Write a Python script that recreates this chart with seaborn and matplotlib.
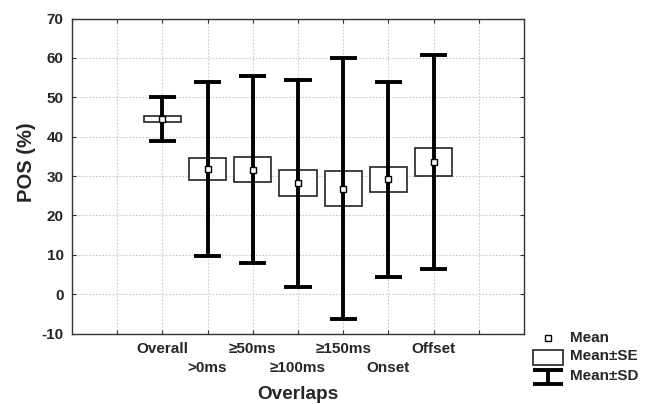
import numpy as np
import pandas as pd
import matplotlib
matplotlib.use("Agg")
import matplotlib.pyplot as plt
import seaborn as sns

# Summary statistics of POS (%) per overlap condition
categories = ["Overall", ">0ms", "≥50ms", "≥100ms", "≥150ms", "Onset", "Offset"]
means = [44.5, 31.8, 31.6, 28.2, 26.8, 29.2, 33.5]
se = [0.8, 2.8, 3.1, 3.2, 4.4, 3.2, 3.5]
sd = [5.5, 22.2, 23.8, 26.3, 33.2, 24.8, 27.2]
y_ticks = [-10, 0, 10, 20, 30, 40, 50, 60, 70]

df = pd.DataFrame({"Overlaps": categories, "mean": means, "se": se, "sd": sd})

sns.set_style("white")
plt.rcParams["font.family"] = ["Liberation Sans", "DejaVu Sans"]

fig = plt.figure(figsize=(6.55, 4.04), dpi=100)
ax = fig.add_axes([72 / 655, 1 - 333.5 / 404, (524 - 72) / 655, (333.5 - 18.5) / 404])

x = np.arange(len(df))
box_w = 0.82
cap_w = 0.6

# Mean ± SD whiskers
ax.vlines(x, df["mean"] - df["sd"], df["mean"] + df["sd"], color="black", lw=2.8, zorder=2)
for lim in (df["mean"] - df["sd"], df["mean"] + df["sd"]):
    ax.hlines(lim, x - cap_w / 2, x + cap_w / 2, color="black", lw=2.8, zorder=2)

# Mean ± SE boxes
ax.bar(x, 2 * df["se"], bottom=df["mean"] - df["se"], width=box_w,
       facecolor="white", edgecolor="#222222", linewidth=1.2, zorder=3)

# Means
sns.pointplot(data=df, x="Overlaps", y="mean", order=categories, ax=ax,
              markers="s", linestyles="none", color="black", errorbar=None,
              markersize=4.5, markerfacecolor="white", markeredgewidth=1.0)
for art in ax.collections + ax.lines:
    art.set_zorder(5)

ax.set_xlim(-2, 8)
ax.set_ylim(-10, 70)
ax.set_yticks(y_ticks)
ax.set_yticklabels([str(v) for v in y_ticks], fontsize=11, fontweight="bold")

# Grid positions as major ticks; labels alternate between two rows
lower = [i for i in range(len(categories)) if i % 2 == 1]
ax.xaxis.remove_overlapping_locs = False
ax.set_xticks(np.arange(-1, 8))
ax.set_xticklabels([""] + [c if i % 2 == 0 else "" for i, c in enumerate(categories)] + [""],
                   fontsize=11, fontweight="bold")
ax.set_xticks(lower, minor=True)
ax.set_xticklabels([categories[i] for i in lower], minor=True, fontsize=11, fontweight="bold")
ax.tick_params(axis="x", which="minor", length=0, pad=20)

ax.grid(True, which="major", color="#c8c8c8", linestyle=(0, (1.5, 1.5)), linewidth=0.8)
ax.set_axisbelow(True)
for s in ax.spines.values():
    s.set_visible(True)
    s.set_color("#333333")
    s.set_linewidth(1.0)
ax.tick_params(which="major", direction="in", length=3, width=0.8, color="#333333",
               top=True, right=True, bottom=True, left=True,
               labeltop=False, labelright=False, pad=6)

ax.set_xlabel("Overlaps", fontsize=13.7, fontweight="bold", va="center")
ax.xaxis.set_label_coords(0.5, -0.195)
ax.set_ylabel("POS (%)", fontsize=14.5, fontweight="bold", va="center")
ax.yaxis.set_label_coords(-0.10, 0.543)

# Legend drawn in figure pixel space
lg = fig.add_axes([0, 0, 1, 1], zorder=10)
lg.set_xlim(0, 655)
lg.set_ylim(404, 0)
lg.axis("off")
lg.plot([548], [338], marker="s", ms=4.5, mfc="white", mec="black", mew=1.0, ls="none")
lg.add_patch(plt.Rectangle((533, 350), 30, 15, facecolor="white", edgecolor="#222222", lw=1.2))
lg.hlines([369.5, 383.5], 533, 563, color="black", lw=2.8)
lg.vlines(548, 369.5, 383.5, color="black", lw=2.8)
for ty, txt in [(338, "Mean"), (356.5, "Mean±SE"), (376, "Mean±SD")]:
    lg.text(570, ty, txt, fontsize=11, fontweight="bold", va="center", ha="left")

fig.savefig("out.png", dpi=100)
